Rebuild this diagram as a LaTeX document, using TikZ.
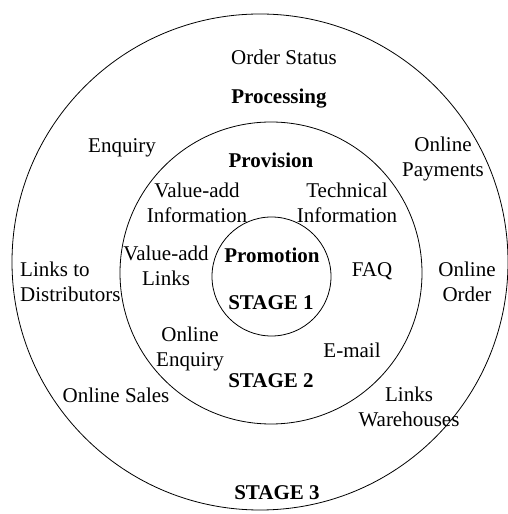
\documentclass[tikz,border=0pt]{standalone}
\usepackage{fontspec}
\setmainfont{Liberation Serif}
\begin{document}
\begin{tikzpicture}[x=1pt,y=1pt,
  ring/.style={draw=black,line width=0.8pt},
  lbl/.style={font=\fontsize{21}{25}\selectfont,align=center,anchor=base,inner sep=0pt},
  blbl/.style={lbl,font=\fontsize{21}{25}\selectfont\bfseries}]
\useasboundingbox (0,0) rectangle (507,514);
\node[ring,circle,minimum size=496pt,inner sep=0pt] (outer) at (260,252) {};
\node[ring,circle,minimum size=302pt,inner sep=0pt] (middle) at (271,241) {};
\node[ring,circle,minimum size=119pt,inner sep=0pt] (inner) at (271.5,237.5) {};
\begin{scope}[yshift=-2pt]
% outer ring
\node[lbl] (orderstatus) at (284,451) {Order Status};
\node[blbl] (processing) at (279,412) {Processing};
\node[lbl] (enquiry) at (122,363) {Enquiry};
\node[lbl] (payments) at (443,339) {Online\\Payments};
\node[lbl,align=left,anchor=base west] (distributors) at (20,214) {Links to\\Distributors};
\node[lbl] (order) at (467,214) {Online\\Order};
\node[lbl] (sales) at (116,113) {Online Sales};
\node[lbl] (warehouses) at (409,89) {Links\\Warehouses};
\node[blbl] (stage3) at (277,16) {STAGE 3};
% middle ring
\node[blbl] (provision) at (271,348) {Provision};
\node[lbl] (vainfo) at (197,293) {Value-add\\Information};
\node[lbl] (techinfo) at (347,293) {Technical\\Information};
\node[lbl] (valinks) at (166,230) {Value-add\\Links};
\node[lbl] (faq) at (372,239) {FAQ};
\node[lbl] (onlineenq) at (190,149) {Online\\Enquiry};
\node[lbl] (email) at (352,158) {E-mail};
\node[blbl] (stage2) at (271,128) {STAGE 2};
% inner circle
\node[blbl] (promotion) at (272,253) {Promotion};
\node[blbl] (stage1) at (271,206) {STAGE 1};
\end{scope}
\end{tikzpicture}
\end{document}
